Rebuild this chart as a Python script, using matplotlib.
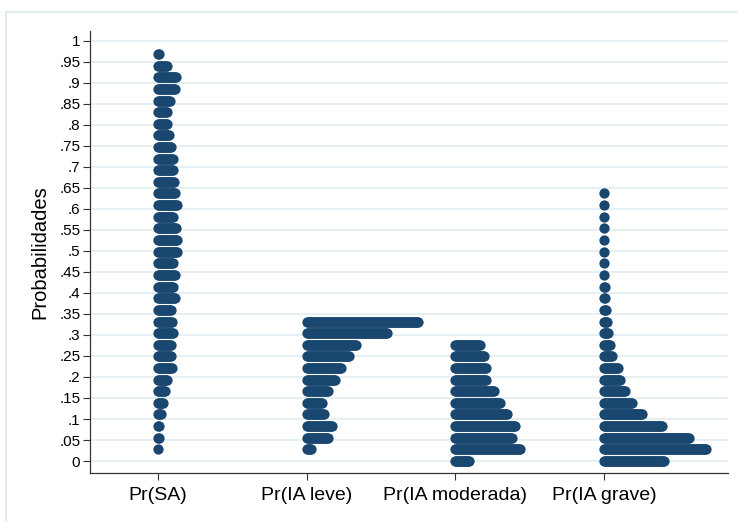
import matplotlib
matplotlib.use("Agg")
import matplotlib.pyplot as plt
import numpy as np
from matplotlib.patches import Rectangle

# ---- data -------------------------------------------------------------
categories = ["Pr(SA)", "Pr(IA leve)", "Pr(IA moderada)", "Pr(IA grave)"]

# bin levels (row y-values) shared by all columns
levels = [0.000, 0.028, 0.055, 0.083, 0.111, 0.138, 0.166, 0.194, 0.222,
          0.249, 0.277, 0.305, 0.332, 0.360, 0.388, 0.415, 0.443, 0.471,
          0.498, 0.526, 0.554, 0.582, 0.609, 0.637, 0.665, 0.692, 0.720,
          0.748, 0.775, 0.803, 0.831, 0.858, 0.886, 0.914, 0.941, 0.969]

# dots per row (index matches levels)
sa_counts = [0, 1, 2, 2, 4, 6, 8, 10, 15, 14, 14, 16, 15, 14, 18, 16, 18, 16,
             20, 20, 19, 16, 20, 18, 17, 16, 16, 14, 12, 10, 10, 13, 18, 19, 10, 2]
leve_counts = [0, 5, 22, 26, 18, 16, 22, 29, 35, 43, 50, 81, 112] + [0] * 23
moderada_counts = [15, 66, 58, 61, 53, 46, 40, 32, 32, 30, 26] + [0] * 25
grave_counts = [61, 103, 86, 59, 39, 29, 22, 17, 15, 9, 7, 5, 4, 3, 2, 2,
                1, 1, 1, 1, 1, 1, 1, 1] + [0] * 12

series = [sa_counts, leve_counts, moderada_counts, grave_counts]

ytick_vals = [0, .05, .1, .15, .2, .25, .3, .35, .4, .45, .5, .55, .6, .65,
              .7, .75, .8, .85, .9, .95, 1]
ytick_labels = ["0", ".05", ".1", ".15", ".2", ".25", ".3", ".35", ".4", ".45",
                ".5", ".55", ".6", ".65", ".7", ".75", ".8", ".85", ".9", ".95", "1"]

# ---- style ------------------------------------------------------------
plt.rcParams['font.family'] = ['Liberation Sans', 'DejaVu Sans']
W, H, DPI = 737, 521, 100
dot_color = '#1a476f'
grid_color = '#e4eff1'

fig = plt.figure(figsize=(W / DPI, H / DPI), dpi=DPI)
fig.patches.append(Rectangle((6 / W, -0.05), 1.1, 1 - 12 / H + 0.05,
                             transform=fig.transFigure, fill=False,
                             edgecolor='#dbe8ea', linewidth=1.2))

ax = fig.add_axes([90 / W, 1 - 473 / H, (728 - 90) / W, (473 - 31) / H])
ax.set_xlim(0.543, 4.834)
ax.set_ylim(-0.02857, 1.0238)

positions = np.arange(1, len(categories) + 1)
px_per_unit = (728 - 90) / (4.834 - 0.543)
step = 1.0 / px_per_unit  # one pixel between successive dots

for pos, counts in zip(positions, series):
    for y, n in zip(levels, counts):
        if n <= 0:
            continue
        xs = pos + step * np.arange(n)
        ax.plot(xs, np.full(n, y), 'o', ms=7.4, color=dot_color, mew=0,
                zorder=3)

ax.set_yticks(ytick_vals)
ax.set_yticklabels(ytick_labels)
ax.set_xticks(positions)
ax.set_xticklabels(categories)
ax.yaxis.grid(True, color=grid_color, linewidth=1.3, zorder=0)
ax.set_axisbelow(True)

for s in ['top', 'right']:
    ax.spines[s].set_visible(False)
for s in ['left', 'bottom']:
    ax.spines[s].set_color('#333333')
    ax.spines[s].set_linewidth(0.9)

ax.tick_params(axis='y', length=5, width=0.8, color='#333333', pad=2,
               labelsize=11)
ax.tick_params(axis='x', length=5, width=0.8, color='#333333', pad=5,
               labelsize=14)
ax.set_ylabel("Probabilidades", fontsize=14.5, labelpad=7)

fig.savefig("out.png", dpi=DPI)
